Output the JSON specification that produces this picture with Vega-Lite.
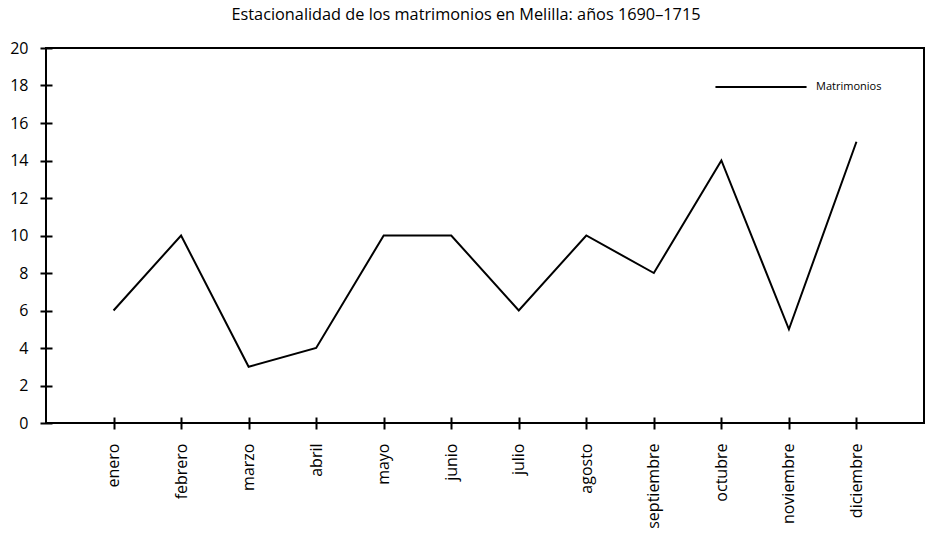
{
  "$schema": "https://vega.github.io/schema/vega-lite/v6.json",
  "width": 878,
  "height": 375,
  "autosize": {"type": "none"},
  "padding": {"left": 46, "top": 48, "right": 4, "bottom": 123},
  "background": "white",
  "title": {
    "text": "Estacionalidad de los matrimonios en Melilla: años 1690–1715",
    "font": "Open Sans",
    "fontSize": 16.3,
    "fontWeight": "normal",
    "color": "black",
    "anchor": "middle",
    "offset": 17,
    "dx": -19
  },
  "config": {
    "view": {"stroke": "black", "strokeWidth": 2},
    "axis": {"grid": false, "domain": false, "tickColor": "black", "tickWidth": 2, "labelColor": "black", "labelFont": "Open Sans", "labelFontSize": 16}
  },
  "data": {
    "values": [
      {"mes": "enero", "valor": 6, "serie": "Matrimonios"},
      {"mes": "febrero", "valor": 10, "serie": "Matrimonios"},
      {"mes": "marzo", "valor": 3, "serie": "Matrimonios"},
      {"mes": "abril", "valor": 4, "serie": "Matrimonios"},
      {"mes": "mayo", "valor": 10, "serie": "Matrimonios"},
      {"mes": "junio", "valor": 10, "serie": "Matrimonios"},
      {"mes": "julio", "valor": 6, "serie": "Matrimonios"},
      {"mes": "agosto", "valor": 10, "serie": "Matrimonios"},
      {"mes": "septiembre", "valor": 8, "serie": "Matrimonios"},
      {"mes": "octubre", "valor": 14, "serie": "Matrimonios"},
      {"mes": "noviembre", "valor": 5, "serie": "Matrimonios"},
      {"mes": "diciembre", "valor": 15, "serie": "Matrimonios"}
    ]
  },
  "mark": {"type": "line", "strokeWidth": 2},
  "encoding": {
    "x": {"field": "mes", "type": "ordinal", "sort": null, "scale": {"type": "point", "padding": 1},
      "axis": {"title": null, "offset": -6, "tickSize": 12, "labelAngle": -90, "labelAlign": "right", "labelBaseline": "middle", "labelPadding": 14}},
    "y": {"field": "valor", "type": "quantitative", "scale": {"domain": [0, 20]},
      "axis": {"title": null, "offset": -6, "tickSize": 12, "values": [0, 2, 4, 6, 8, 10, 12, 14, 16, 18, 20], "labelPadding": 12}},
    "color": {"field": "serie", "type": "nominal", "scale": {"range": ["black"]},
      "legend": {"title": null, "orient": "none", "legendX": 668, "legendY": -8, "symbolType": "stroke", "symbolSize": 8300, "symbolStrokeWidth": 2, "labelFont": "Open Sans", "labelFontSize": 11, "labelColor": "black", "labelOffset": 8}}
  }
}
